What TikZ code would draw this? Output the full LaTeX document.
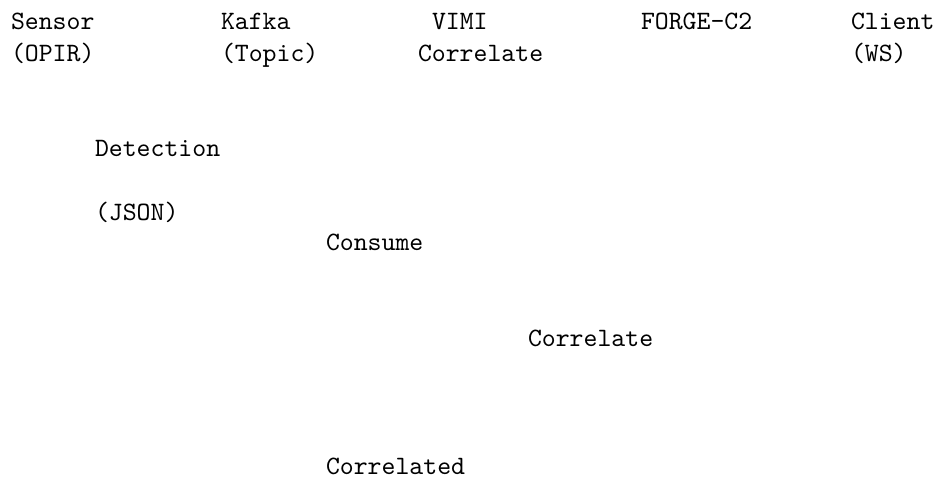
\documentclass[tikz,border=0pt]{standalone}
\begin{document}
\begin{tikzpicture}[x=0.37736pt,y=-0.37736pt,
  lbl/.style={anchor=base west,inner sep=0pt,outer sep=0pt,font=\ttfamily\fontsize{10}{12}\selectfont}]
\useasboundingbox (0,0) rectangle (940,481);
\node[lbl] (sensor) at (11,30) {Sensor};
\node[lbl] (sensor2) at (11,62) {(OPIR)};
\node[lbl] (kafka) at (221,30) {Kafka};
\node[lbl] (kafka2) at (221,62) {(Topic)};
\node[lbl] (vimi) at (432,30) {VIMI};
\node[lbl] (vimi2) at (418,62) {Correlate};
\node[lbl] (forge) at (641,30) {FORGE-C2};
\node[lbl] (client) at (851,30) {Client};
\node[lbl] (client2) at (851,62) {(WS)};
\node[lbl] (det) at (95,157) {Detection};
\node[lbl] (json) at (95,221) {(JSON)};
\node[lbl] (consume) at (326,251) {Consume};
\node[lbl] (correlate) at (528,347) {Correlate};
\node[lbl] (correlated) at (326,475) {Correlated};
\end{tikzpicture}
\end{document}
